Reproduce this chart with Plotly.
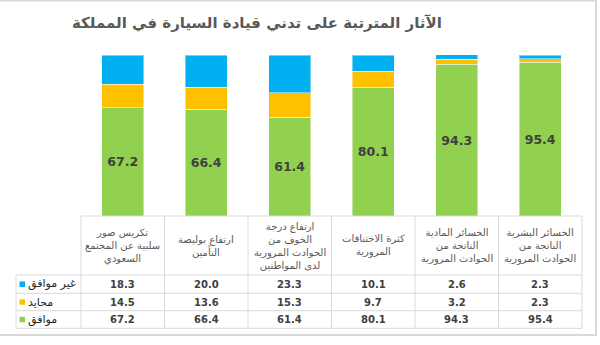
import plotly.graph_objects as go

W, H = 600, 345

title_text = "الآثار المترتبة على تدني قيادة السيارة في المملكة"
categories = [
    "تكريس صور<br>سلبية عن المجتمع<br>السعودي",
    "ارتفاع بوليصة<br>التأمين",
    "ارتفاع درجة<br>الخوف من<br>الحوادث المرورية<br>لدى المواطنين",
    "كثرة الاختناقات<br>المرورية",
    "الخسائر المادية<br>الناتجة من<br>الحوادث المرورية",
    "الخسائر البشرية<br>الناتجة من<br>الحوادث المرورية",
]
series_names = ["غير موافق", "محايد", "موافق"]
disagree = [18.3, 20.0, 23.3, 10.1, 2.6, 2.3]
neutral = [14.5, 13.6, 15.3, 9.7, 3.2, 2.3]
agree = [67.2, 66.4, 61.4, 80.1, 94.3, 95.4]

C_BLUE, C_ORANGE, C_GREEN = "#00B0F0", "#FFC000", "#92D050"
FONT = "DejaVu Sans"

# layout geometry (px)
X0, X1 = 81, 582
Y_TOP, Y_BOT = 55, 216
ROW_EDGES = [216, 275, 293.3, 310.7, 328.3]
LEG_X = 16


def px(x):
    return x / W


def py(y):
    return 1 - y / H


fig = go.Figure()
fig.add_trace(go.Bar(
    x=categories, y=agree, name=series_names[2], marker_color=C_GREEN,
    marker_line=dict(color="rgba(255,255,255,0.45)", width=1), width=0.5,
    text=agree, texttemplate="%{y:.1f}", textposition="inside",
    insidetextanchor="middle",
    textfont=dict(family=FONT, size=12.5, color="#404040", weight="bold"),
))
fig.add_trace(go.Bar(
    x=categories, y=neutral, name=series_names[1], marker_color=C_ORANGE,
    marker_line=dict(color="rgba(255,255,255,0.45)", width=1), width=0.5,
))
fig.add_trace(go.Bar(
    x=categories, y=disagree, name=series_names[0], marker_color=C_BLUE,
    marker_line=dict(color="rgba(255,255,255,0.45)", width=1), width=0.5,
))

shapes = []
annotations = []
grid_col = "#D9D9D9"

# table horizontal lines
shapes.append(dict(type="line", xref="paper", yref="paper",
                   x0=px(X0), x1=px(X1), y0=py(ROW_EDGES[0]), y1=py(ROW_EDGES[0]),
                   line=dict(color=grid_col, width=1)))
for ye in ROW_EDGES[1:]:
    shapes.append(dict(type="line", xref="paper", yref="paper",
                       x0=px(LEG_X), x1=px(X1), y0=py(ye), y1=py(ye),
                       line=dict(color=grid_col, width=1)))
# table vertical lines
n = len(categories)
step = (X1 - X0) / n
for k in range(n + 1):
    xv = X0 + k * step
    shapes.append(dict(type="line", xref="paper", yref="paper",
                       x0=px(xv), x1=px(xv), y0=py(ROW_EDGES[0]), y1=py(ROW_EDGES[-1]),
                       line=dict(color=grid_col, width=1)))
shapes.append(dict(type="line", xref="paper", yref="paper",
                   x0=px(LEG_X), x1=px(LEG_X), y0=py(ROW_EDGES[1]), y1=py(ROW_EDGES[-1]),
                   line=dict(color=grid_col, width=1)))

# outer chart border
shapes.append(dict(type="rect", xref="paper", yref="paper",
                   x0=px(-2), x1=px(596), y0=py(335), y1=py(0.5),
                   line=dict(color="#D9D9D9", width=2), layer="below"))

# header labels
for c in categories:
    annotations.append(dict(x=c, xref="x", y=py((ROW_EDGES[0] + ROW_EDGES[1]) / 2),
                            yref="paper", text=c, showarrow=False, align="center",
                            xanchor="center", yanchor="middle",
                            font=dict(family=FONT, size=10, color="#595959")))

# data rows
rows = [(series_names[0], disagree, C_BLUE),
        (series_names[1], neutral, C_ORANGE),
        (series_names[2], agree, C_GREEN)]
for i, (nm, vals, col) in enumerate(rows):
    yc = (ROW_EDGES[i + 1] + ROW_EDGES[i + 2]) / 2
    for c, v in zip(categories, vals):
        annotations.append(dict(x=c, xref="x", y=py(yc), yref="paper",
                                text=f"{v:.1f}", showarrow=False,
                                xanchor="center", yanchor="middle",
                                font=dict(family=FONT, size=10, color="#404040", weight="bold")))
    shapes.append(dict(type="rect", xref="paper", yref="paper",
                       x0=px(19.5), x1=px(25), y0=py(yc + 2.8), y1=py(yc - 2.7),
                       fillcolor=col, line=dict(width=0)))
    annotations.append(dict(x=px(26), xref="paper", y=py(yc), yref="paper",
                            text=nm, showarrow=False, xanchor="left", yanchor="middle",
                            font=dict(family=FONT, size=11, color="#262626")))

# title
annotations.append(dict(x=px(257), xref="paper", y=py(23), yref="paper",
                        text=title_text, showarrow=False, xanchor="center",
                        yanchor="middle",
                        font=dict(family=FONT, size=15, color="#595959", weight="bold")))

fig.update_layout(
    width=W, height=H, margin=dict(l=0, r=0, t=0, b=0),
    paper_bgcolor="white", plot_bgcolor="white",
    barmode="stack", showlegend=False, bargap=0.5,
    xaxis=dict(domain=[px(X0), px(X1)], showticklabels=False, showgrid=False,
               zeroline=False, showline=False, ticks="", range=[-0.5, n - 0.5]),
    yaxis=dict(domain=[py(Y_BOT), py(Y_TOP)], range=[0, 100], visible=False),
    shapes=shapes, annotations=annotations,
    font=dict(family=FONT),
)

fig.write_html("out.html")
